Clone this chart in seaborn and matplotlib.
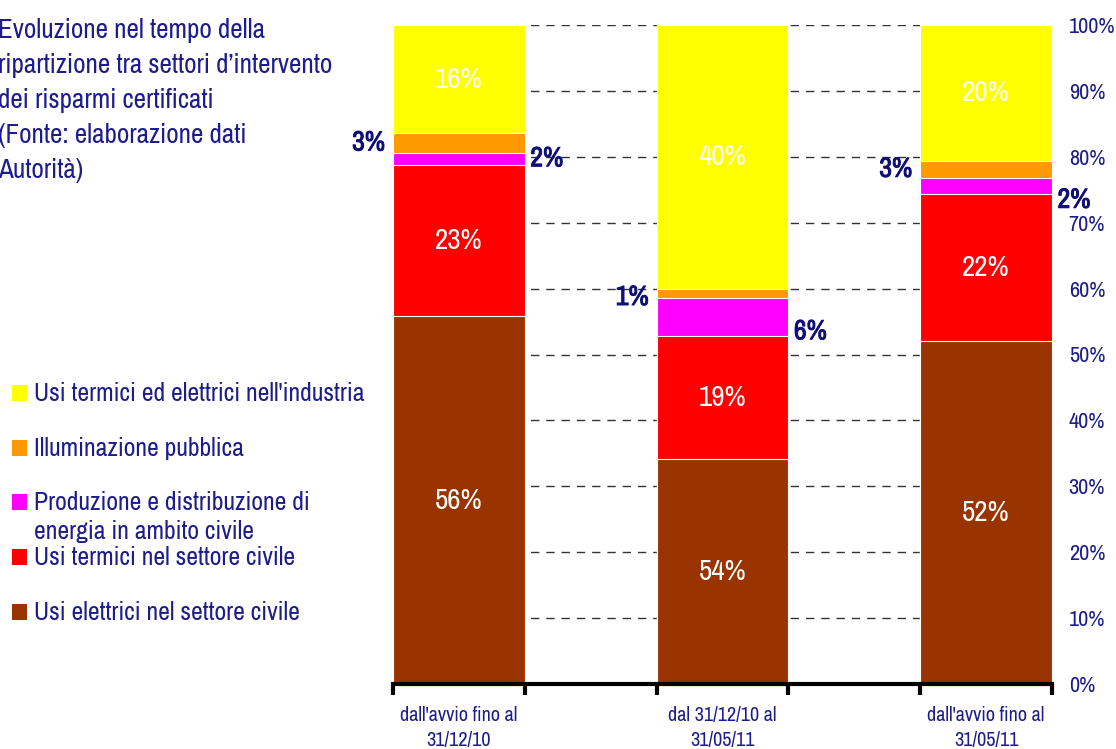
import numpy as np
import pandas as pd
import matplotlib
matplotlib.use("Agg")
import matplotlib.pyplot as plt
import matplotlib.patheffects as pe
import seaborn as sns
from matplotlib.patches import Rectangle

# categories (x axis)
categories = ["dall'avvio fino al\n31/12/10", "dal 31/12/10 al\n31/05/11", "dall'avvio fino al\n31/05/11"]

# series, bottom to top
series = ["Usi elettrici nel settore civile",
          "Usi termici nel settore civile",
          "Produzione e distribuzione di\nenergia in ambito civile",
          "Illuminazione pubblica",
          "Usi termici ed elettrici nell'industria"]
colors = ["#993300", "#FF0000", "#FF00FF", "#FF9900", "#FFFF00"]

# shares (%)
elettrici_civile = [55.8, 34.1, 52.1]
termici_civile = [23.0, 18.7, 22.3]
produzione = [1.8, 5.7, 2.4]
illuminazione = [3.0, 1.5, 2.6]
industria = [16.4, 40.0, 20.6]

# labels as printed on the chart (middle brown bar is printed as 54%)
lab_elettrici = ["56%", "54%", "52%"]
lab_termici = ["23%", "19%", "22%"]
lab_produzione = ["2%", "6%", "2%"]
lab_illuminazione = ["3%", "1%", "3%"]
lab_industria = ["16%", "40%", "20%"]

title_lines = ["Evoluzione nel tempo della",
               "ripartizione tra settori d\u2019intervento",
               "dei risparmi certificati",
               "(Fonte: elaborazione dati",
               "Autorit\u00e0)"]

navy = "#1c1c8c"
dark_navy = "#0f0f78"

sns.set_style("white")
plt.rcParams['font.family'] = ['Archivo Narrow', 'Liberation Sans', 'DejaVu Sans']

values = np.array([elettrici_civile, termici_civile, produzione, illuminazione, industria])
labels = [lab_elettrici, lab_termici, lab_produzione, lab_illuminazione, lab_industria]
cum = np.cumsum(values, axis=0)
bottoms = cum - values

W, H = 1116, 749
fig = plt.figure(figsize=(W / 100, H / 100), dpi=100)
ax = fig.add_axes([393 / W, 65 / H, 659 / W, 659 / H])

# stacked bars: draw cumulative totals from the top series down
for k in range(len(series) - 1, -1, -1):
    df = pd.DataFrame({"periodo": categories, "quota": cum[k]})
    sns.barplot(data=df, x="periodo", y="quota", color=colors[k], width=0.5,
                edgecolor="white", linewidth=0.8, errorbar=None, ax=ax,
                saturation=1, zorder=2)

ax.set_xlim(-0.25, 2.25)
ax.set_ylim(0, 100)
ax.set_xlabel("")
ax.set_ylabel("")

# right-hand percentage axis with dashed grid
ax.yaxis.tick_right()
ax.set_yticks(range(0, 101, 10))
ax.set_yticklabels([f"{v}%" for v in range(0, 101, 10)])
ax.tick_params(axis="y", length=0, pad=12, labelsize=16, labelcolor=navy)
ax.yaxis.grid(True, linestyle=(0, (6, 5)), color="#333333", linewidth=1.0)
ax.set_axisbelow(True)

for s in ["left", "top", "right"]:
    ax.spines[s].set_visible(False)
ax.spines["bottom"].set_linewidth(3)
ax.spines["bottom"].set_color("black")
ax.spines["bottom"].set_zorder(5)

ax.set_xticks([-0.25, 0.25, 0.75, 1.25, 1.75, 2.25], minor=True)
ax.tick_params(axis="x", which="minor", bottom=True, length=8, width=3,
               color="black", direction="out")
ax.tick_params(axis="x", which="major", length=0, pad=16, labelsize=14.5, labelcolor=navy)
for t in ax.get_xticklabels():
    t.set_linespacing(1.4)

# labels inside the bars
for k in (0, 1, 4):
    for i in range(len(categories)):
        ax.text(i, bottoms[k][i] + values[k][i] / 2, labels[k][i], color="white",
                ha="center", va="center", fontsize=21, zorder=6)

# small shares labelled outside: illuminazione on the left, produzione on the right
bold = [pe.withStroke(linewidth=0.7, foreground=dark_navy)]
gap = 0.03
left_shift = [0, -0.6, 0]
right_shift = [0, -2.2, -2.2]
for i in range(len(categories)):
    ax.text(i - 0.25 - gap, bottoms[3][i] + values[3][i] / 2 + left_shift[i], labels[3][i],
            color=dark_navy, ha="right", va="center", fontsize=20,
            path_effects=bold, zorder=6, clip_on=False)
    ax.text(i + 0.25 + gap * 0.7, bottoms[2][i] + values[2][i] / 2 + right_shift[i], labels[2][i],
            color=dark_navy, ha="left", va="center", fontsize=20,
            path_effects=bold, zorder=6, clip_on=False)

# title block, top left
for j, line in enumerate(title_lines):
    fig.text(-2 / W, 1 - (38 + 35 * j) / H, line, color=navy, fontsize=19.5,
             ha="left", va="baseline")

# legend, drawn by hand (top to bottom); baseline of the first line of each entry
legend_baselines = [401, 456, 510, 565, 620]
for row, k in enumerate(range(len(series) - 1, -1, -1)):
    yb = legend_baselines[row]
    extra = 29 * series[k].count("\n")
    fig.patches.append(Rectangle((12 / W, 1 - yb / H), 15 / W, 16 / H,
                                 transform=fig.transFigure, facecolor=colors[k],
                                 edgecolor="none"))
    fig.text(34 / W, 1 - (yb + extra) / H, series[k], color=navy, fontsize=18.5,
             ha="left", va="baseline", linespacing=1.3)

fig.savefig("out.png", dpi=100)
